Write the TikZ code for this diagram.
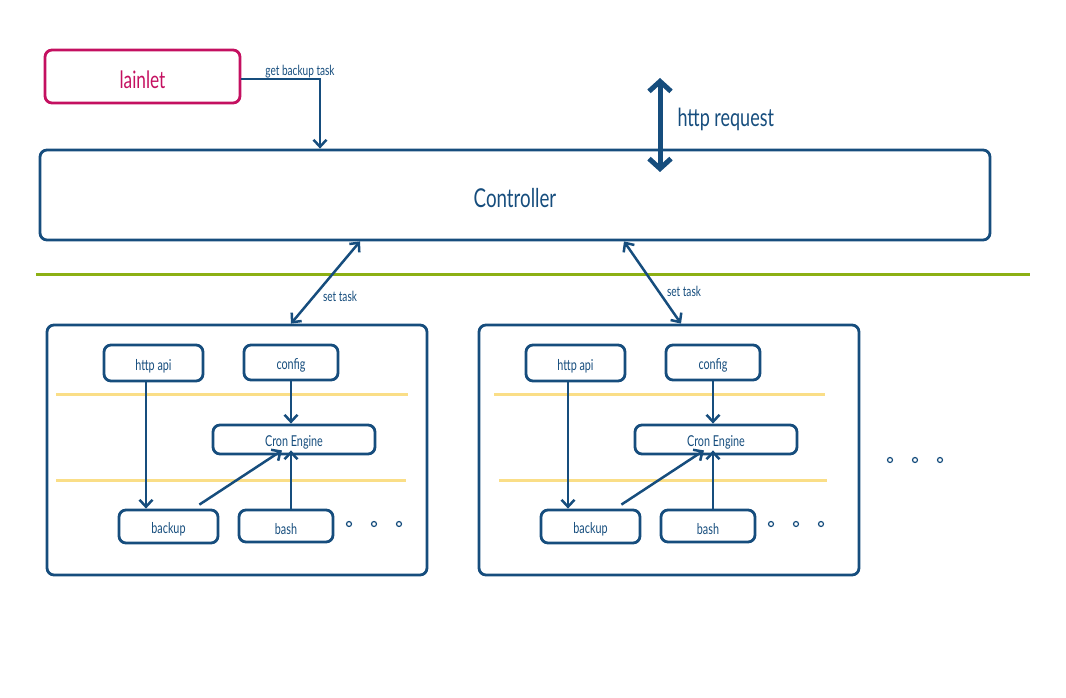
\documentclass[tikz,border=0pt]{standalone}
\usepackage{fontspec}
\setmainfont{Lato}[FakeStretch=0.72]
\usetikzlibrary{arrows.meta}
\definecolor{dblue}{RGB}{22,77,125}
\definecolor{mag}{RGB}{196,16,96}
\definecolor{ylw}{RGB}{250,222,135}
\definecolor{grn}{RGB}{140,176,20}
\newcommand\lowr[1]{\raisebox{-3pt}[\height][\depth]{#1}}
\tikzset{
  box/.style={draw=dblue, line width=2.8pt, rounded corners=7pt, inner sep=0pt, text=dblue, font=\fontsize{15}{17}\selectfont},
  conn/.style={draw=dblue, line width=2.5pt, -{Straight Barb[length=7pt,width=13pt,line width=2.5pt]}},
  dconn/.style={conn, {Straight Barb[length=7pt,width=13pt,line width=2.5pt]}-{Straight Barb[length=7pt,width=13pt,line width=2.5pt]}},
  sep/.style={draw=ylw, line width=3pt},
  lbl/.style={text=dblue, inner sep=1pt, font=\fontsize{14}{16}\selectfont},
  dot/.style={circle, draw=dblue, line width=1.2pt, minimum size=5pt, inner sep=0pt}
}
\newcommand\mypanel[7]{%
  % #1 suffix, #2 panel dx, #3 inner dx, #4-#7 yellow line ends
  \node[box, minimum width=380pt, minimum height=250pt] (panel#1) at (237+#2,450) {};
  \node[box, minimum width=99pt, minimum height=36pt] (http#1) at (153.5+#3,363) {\lowr{http api}};
  \node[box, minimum width=94pt, minimum height=35pt] (config#1) at (291+#3,362.5) {\lowr{config}};
  \node[box, minimum width=162pt, minimum height=29pt] (cron#1) at (294+#3,439.5) {\lowr{Cron Engine}};
  \node[box, minimum width=99pt, minimum height=33pt] (backup#1) at (168.5+#3,526.5) {\lowr{backup}};
  \node[box, minimum width=94pt, minimum height=32pt] (bash#1) at (286+#3,526) {\lowr{bash}};
  \coordinate (ya#1) at (#4,394);
  \coordinate (yb#1) at (#5,394);
  \coordinate (yc#1) at (#6,480);
  \coordinate (yd#1) at (#7,480);
  \draw[sep] (ya#1) -- (yb#1);
  \draw[sep] (yc#1) -- (yd#1);
  \node[dot] (da#1) at (349+#3,524) {};
  \node[dot] (db#1) at (374+#3,524) {};
  \node[dot] (dc#1) at (399+#3,524) {};
  \draw[conn] (http#1.south -| 146+#3,0) -- (backup#1.north -| 146+#3,0);
  \draw[conn] (config#1.south) -- (cron#1.north -| config#1.south);
  \draw[conn] (backup#1.north east) ++(-20,-4) -- ([xshift=-12pt,yshift=5pt]cron#1.south);
  \draw[conn] (bash#1.north -| 291+#3,0) -- ([yshift=5pt]cron#1.south -| 291+#3,0);
}
\begin{document}
\begin{tikzpicture}[x=1pt,y=-1pt]
\useasboundingbox (0,0) rectangle (1066,698);
\node[box, draw=mag, text=mag, minimum width=195pt, minimum height=53pt, font=\fontsize{24}{28}\selectfont] (lainlet) at (142.5,76.5) {\lowr{lainlet}};
\node[box, minimum width=950pt, minimum height=90pt, font=\fontsize{26}{30}\selectfont] (ctrl) at (515,195) {\lowr{Controller}};
\coordinate (bend) at (320,79);
\draw[conn] (lainlet.east |- bend) -- (bend) -- (ctrl.north -| bend);
\node[lbl, anchor=south] (gbt) at (300,79) {get backup task};
\coordinate (hrt) at (660,78);
\coordinate (hrb) at (660,172);
\draw[draw=dblue, line width=5pt, {Straight Barb[length=10pt,width=22pt,line width=5pt]}-{Straight Barb[length=10pt,width=22pt,line width=5pt]}] (hrt) -- (hrb);
\node[text=dblue, anchor=west, font=\fontsize{25}{28}\selectfont] (hrq) at (674,119) {http request};
\coordinate (gl) at (36,274);
\coordinate (gr) at (1030,274);
\draw[draw=grn, line width=3pt] (gl) -- (gr);
\mypanel{1}{0}{0}{56}{408}{56}{406}
\mypanel{2}{432}{422}{494}{825}{499}{827}
\draw[dconn] (ctrl.south -| 360,0) -- (panel1.north -| 291,0);
\draw[dconn] (ctrl.south -| 624,0) -- (panel2.north -| 681,0);
\node[lbl] (st1) at (340,296) {set task};
\node[lbl] (st2) at (684,291) {set task};
\node[dot] (ea) at (890,460) {};
\node[dot] (eb) at (915,460) {};
\node[dot] (ec) at (940,460) {};
\end{tikzpicture}
\end{document}
